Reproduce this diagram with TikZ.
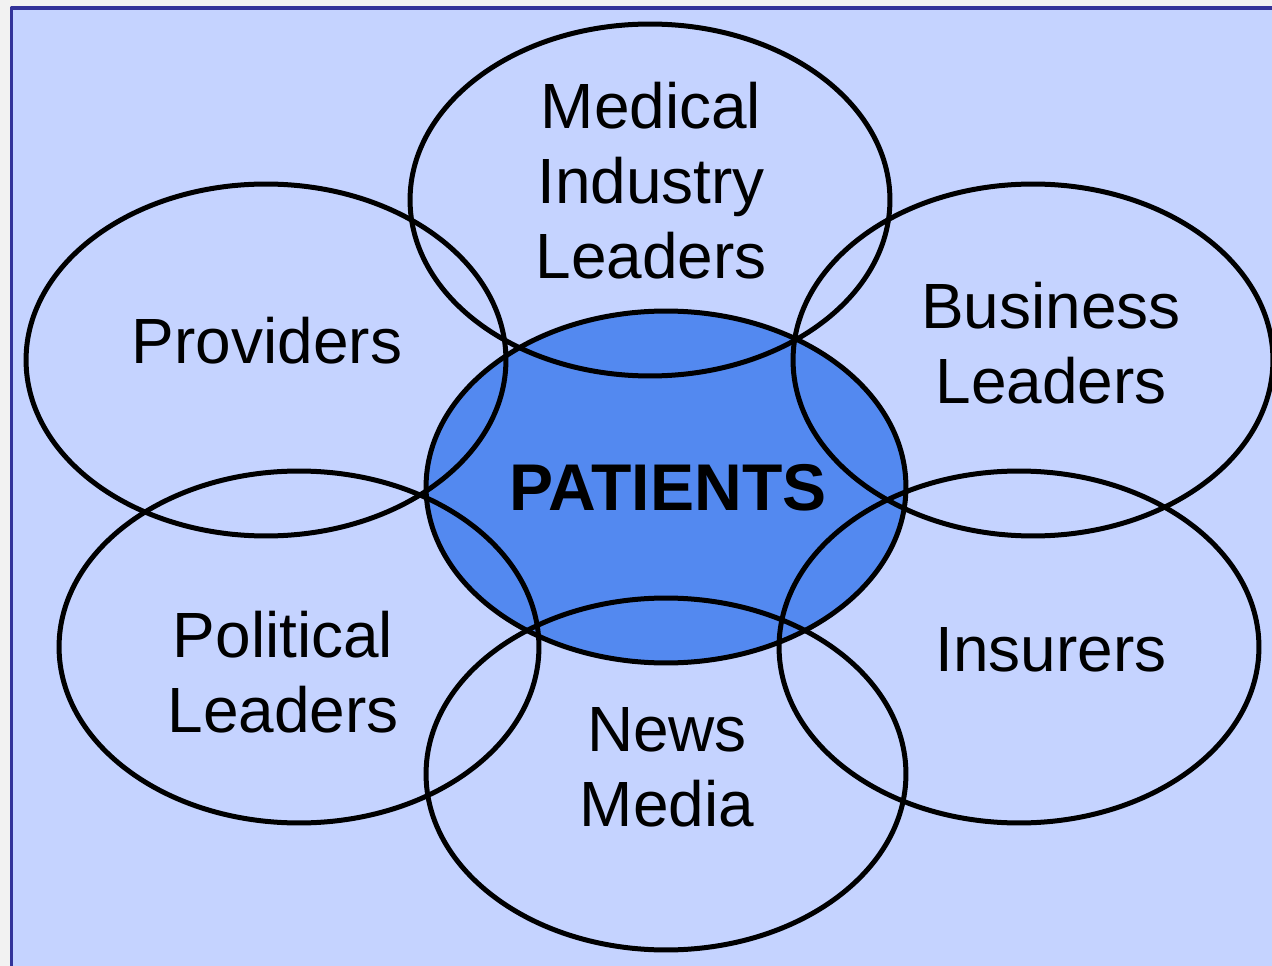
\documentclass[tikz,border=0pt]{standalone}
\usepackage{fontspec}
\setmainfont{Liberation Sans}
\usetikzlibrary{shapes.geometric}
\definecolor{panelblue}{HTML}{C5D3FF}
\definecolor{coreblue}{HTML}{5389F0}
\definecolor{frameblue}{HTML}{333399}
\definecolor{pagegray}{HTML}{F2F2F2}
\begin{document}
\begin{tikzpicture}[x=0.02cm, y=-0.02cm, line join=round, line cap=round,
 font=\fontsize{36.4}{42.7}\selectfont,
 ring/.style={ellipse, draw=black, line width=0.1cm, minimum width=9.6cm, minimum height=7.04cm, inner sep=0pt, outer sep=0pt},
 tag/.style={align=center, inner sep=0pt}]
 \def\pw{1272}\def\ph{966}
 \useasboundingbox (0,0) rectangle (\pw,\ph);
 \clip (0,0) rectangle (\pw,\ph);
 \fill[pagegray] (0,0) rectangle (\pw,\ph);
 \draw[frameblue, fill=panelblue, line width=0.07cm] (11.5,8) rectangle (\pw+30,\ph+30);
 % the centre ring is filled, the others are outlines only
 \node[ring, fill=coreblue] (patients) at (666,487) {};
 \foreach \nm/\cx/\cy in {medical/650/200, providers/266/360, business/1033/360, political/299/647, insurers/1019/647, news/666/774}
 \node[ring] (\nm) at (\cx,\cy) {};
 \node[tag] (tmedical) at (651,181) {Medical\\Industry\\Leaders};
 \node[tag] (tproviders) at (267,341) {Providers};
 \node[tag] (tbusiness) at (1051,343) {Business\\Leaders};
 \node[tag, font=\fontsize{37.6}{42.7}\selectfont\bfseries] (tpatients) at (668,488) {PATIENTS};
 \node[tag] (tpolitical) at (283,672) {Political\\Leaders};
 \node[tag] (tinsurers) at (1051,650) {Insurers};
 \node[tag] (tnews) at (667,767) {News\\Media};
\end{tikzpicture}
\end{document}
